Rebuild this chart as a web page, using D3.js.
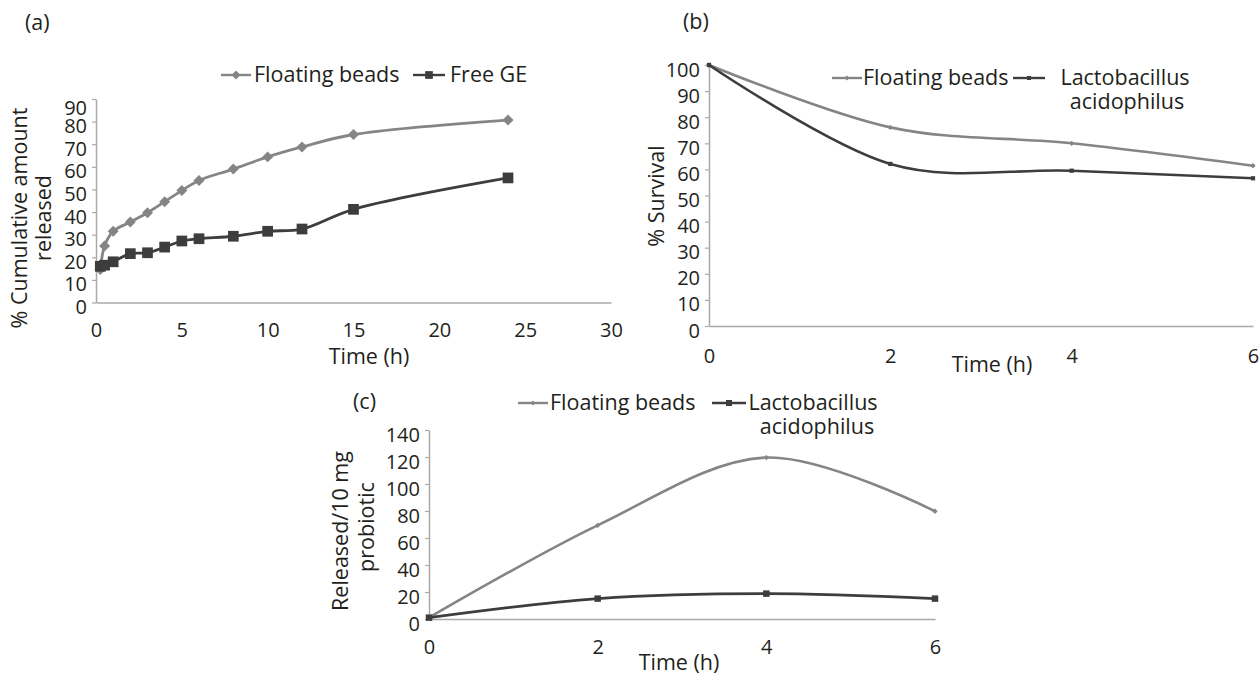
<!DOCTYPE html>
<html>
<head>
<meta charset="utf-8">
<script src="https://cdn.jsdelivr.net/npm/d3@7"></script>
<style>
  body { margin: 0; background: #fff; }
  svg text { font-family: "Open Sans", sans-serif; fill: #231f20; }
</style>
</head>
<body>
<div id="chart"></div>
<script>
// panel (a): cumulative release
const timeA = [0.25, 0.5, 1, 2, 3, 4, 5, 6, 8, 10, 12, 15, 24];
const beadsA = [14.6, 25, 31.5, 35.6, 39.7, 44.6, 49.5, 54, 59, 64.4, 68.8, 74.3, 80.7];
const freeGE = [16, 16.5, 18, 21.6, 22, 24.5, 27.2, 28.2, 29.3, 31.5, 32.5, 41.2, 55.1];
const ticksAx = [0, 5, 10, 15, 20, 25, 30];
const ticksAy = [0, 10, 20, 30, 40, 50, 60, 70, 80, 90];

// panel (b): survival
const timeB = [0, 2, 4, 6];
const beadsB = [100, 76.1, 70.0, 61.4];
const lactoB = [100, 62.1, 59.5, 56.6];
const ticksBy = [0, 10, 20, 30, 40, 50, 60, 70, 80, 90, 100];

// panel (c): released per 10 mg
const timeC = [0, 2, 4, 6];
const beadsC = [1, 69.4, 119.6, 79.8];
const lactoC = [1, 15.1, 18.8, 15.1];
const ticksCy = [0, 20, 40, 60, 80, 100, 120, 140];

const gray = '#858585', dark = '#3d3d3d', axisColor = '#a9a9a9';
const labelSize = '21.5px', tickSize = '20px';

const svg = d3.select('#chart').append('svg')
  .attr('width', 1259)
  .attr('height', 676);

function drawAxes(x, y, xticks, yticks, xOff) {
  let ax = svg.append('g')
    .attr('transform', `translate(0, ${y.range()[0]})`)
    .call(d3.axisBottom(x).tickValues(xticks).tickSize(0).tickFormat(d3.format('d')));
  ax.select('.domain').attr('stroke', axisColor).attr('stroke-width', 1.5);
  ax.selectAll('text').attr('y', xOff).attr('dy', '0.35em').style('font-size', tickSize);

  let ay = svg.append('g')
    .attr('transform', `translate(${x.range()[0]}, 0)`)
    .call(d3.axisLeft(y).tickValues(yticks).tickSizeInner(4).tickSizeOuter(0).tickPadding(5));
  ay.select('.domain').attr('stroke', axisColor).attr('stroke-width', 1.5);
  ay.selectAll('line').attr('stroke', axisColor).attr('stroke-width', 1.2);
  ay.selectAll('text').attr('dy', '0.55em').style('font-size', tickSize);
  return ay;
}

function drawSeries(x, y, xs, ys, color, width, symbol, size, curve) {
  let pts = xs.map((t, i) => [t, ys[i]]);
  svg.append('path')
    .datum(pts)
    .attr('fill', 'none')
    .attr('stroke', color)
    .attr('stroke-width', width)
    .attr('d', d3.line().x(d => x(d[0])).y(d => y(d[1])).curve(curve));
  let rot = symbol === 'diamond' ? 45 : 0;
  svg.append('g').selectAll('path')
    .data(pts)
    .enter()
    .append('path')
    .attr('d', d3.symbol(d3.symbolSquare, size))
    .attr('fill', color)
    .attr('transform', d => `translate(${x(d[0])}, ${y(d[1])}) rotate(${rot})`);
}

function legendItem(x1, x2, cy, color, width, symbol, size) {
  svg.append('line')
    .attr('x1', x1).attr('x2', x2).attr('y1', cy).attr('y2', cy)
    .attr('stroke', color).attr('stroke-width', width);
  svg.append('path')
    .attr('d', d3.symbol(d3.symbolSquare, size))
    .attr('fill', color)
    .attr('transform', `translate(${(x1 + x2) / 2}, ${cy}) rotate(${symbol === 'diamond' ? 45 : 0})`);
}

function label(txt, x, y, anchor, rotate) {
  svg.append('text')
    .attr('transform', `translate(${x}, ${y})` + (rotate ? ' rotate(-90)' : ''))
    .style('text-anchor', anchor)
    .style('font-size', labelSize)
    .text(txt);
}

// ----- (a)
let xA = d3.scaleLinear().domain([0, 30]).range([96, 611]);
let yA = d3.scaleLinear().domain([0, 90]).range([302.5, 99]);
let ayA = drawAxes(xA, yA, ticksAx, ticksAy, 27);
ayA.selectAll('.tick').filter(d => d === 90).select('text').attr('dy', '0.75em');
drawSeries(xA, yA, timeA, beadsA, gray, 2.8, 'diamond', 60, d3.curveCatmullRom.alpha(0.5));
drawSeries(xA, yA, timeA, freeGE, dark, 2.8, 'square', 115, d3.curveCatmullRom.alpha(0.5));
legendItem(221, 251, 75, gray, 2.4, 'diamond', 40);
label('Floating beads', 254, 82, 'start');
legendItem(413, 445, 75, dark, 2.4, 'square', 60);
label('Free GE', 450, 82, 'start');
label('% Cumulative amount', 27, 218, 'middle', true);
label('released', 51, 218, 'middle', true);
label('Time (h)', 369, 364, 'middle');
label('(a)', 25, 30, 'start');

// ----- (b)
let xB = d3.scaleLinear().domain([0, 6]).range([709, 1253]);
let yB = d3.scaleLinear().domain([0, 100]).range([326, 65]);
drawAxes(xB, yB, timeB, ticksBy, 30);
drawSeries(xB, yB, timeB, beadsB, gray, 2.6, 'diamond', 14, d3.curveCatmullRom.alpha(0));
drawSeries(xB, yB, timeB, lactoB, dark, 2.6, 'square', 18, d3.curveCatmullRom.alpha(0));
legendItem(832, 862, 78, gray, 2.4, 'diamond', 12);
label('Floating beads', 863, 85, 'start');
legendItem(1013, 1045, 78, dark, 2.4, 'square', 16);
label('Lactobacillus', 1125, 85, 'middle');
label('acidophilus', 1127, 109, 'middle');
label('% Survival', 664, 196, 'middle', true);
label('Time (h)', 992, 372, 'middle');
label('(b)', 683, 29, 'start');

// ----- (c)
let xC = d3.scaleLinear().domain([0, 6]).range([429, 935]);
let yC = d3.scaleLinear().domain([0, 140]).range([619, 430]);
drawAxes(xC, yC, timeC, ticksCy, 28);
drawSeries(xC, yC, timeC, beadsC, gray, 2.6, 'diamond', 14, d3.curveCatmullRom.alpha(0));
drawSeries(xC, yC, timeC, lactoC, dark, 2.6, 'square', 42, d3.curveCatmullRom.alpha(0));
legendItem(518, 548, 403, gray, 2.4, 'diamond', 12);
label('Floating beads', 550, 410, 'start');
legendItem(712, 746, 403, dark, 2.4, 'square', 36);
label('Lactobacillus', 813, 410, 'middle');
label('acidophilus', 817, 434, 'middle');
label('Released/10 mg', 348, 531, 'middle', true);
label('probiotic', 374, 527, 'middle', true);
label('Time (h)', 679, 670, 'middle');
label('(c)', 353, 409, 'start');
</script>
</body>
</html>
